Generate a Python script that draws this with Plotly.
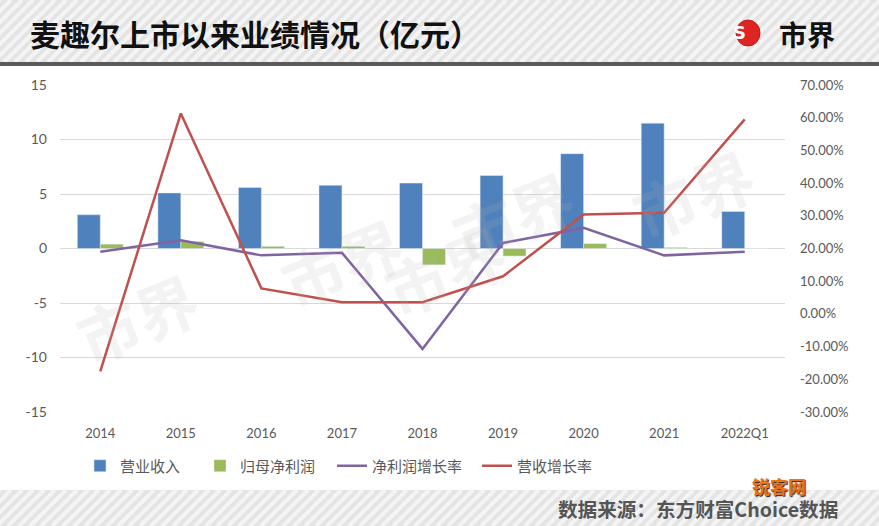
import plotly.graph_objects as go

# data (亿元 / growth rate)
years = ["2014", "2015", "2016", "2017", "2018", "2019", "2020", "2021", "2022Q1"]
revenue = [3.1, 5.1, 5.6, 5.8, 6.0, 6.7, 8.7, 11.5, 3.4]
net_profit = [0.4, 0.65, 0.2, 0.2, -1.5, -0.7, 0.45, 0.1, 0.02]
profit_growth = [0.190, 0.225, 0.179, 0.187, -0.107, 0.217, 0.263, 0.179, 0.190]
revenue_growth = [-0.176, 0.613, 0.078, 0.036, 0.036, 0.115, 0.304, 0.309, 0.595]

left_ticks = [-15, -10, -5, 0, 5, 10, 15]
right_ticks = [-0.3, -0.2, -0.1, 0, 0.1, 0.2, 0.3, 0.4, 0.5, 0.6, 0.7]

W, H = 879, 526
L, R, T, B = 60, 785, 85, 412   # plot area in pixels


def px(x):
    return (x - L) / (R - L)


def py(y):
    return (B - y) / (B - T)


def stripes(y0, y1, step=11):
    # diagonal "/" stripes inside a horizontal band
    d = ""
    h = y1 - y0
    x = -h
    while x < W + h:
        d += f"M{px(x)},{py(y1)} L{px(x + h)},{py(y0)} "
        x += step
    return d


fig = go.Figure()

fig.add_trace(go.Bar(x=years, y=revenue, name="营业收入", marker_color="#4f81bd",
                     legend="legend", showlegend=True))
fig.add_trace(go.Bar(x=years, y=net_profit, name="归母净利润", marker_color="#9bbb59",
                     legend="legend2", showlegend=True))
fig.add_trace(go.Scatter(x=years, y=profit_growth, name="净利润增长率", mode="lines",
                         line=dict(color="#8064a2", width=2.5), yaxis="y2", legend="legend3",
                         showlegend=True))
fig.add_trace(go.Scatter(x=years, y=revenue_growth, name="营收增长率", mode="lines",
                         line=dict(color="#c0504d", width=2.5), yaxis="y2", legend="legend4",
                         showlegend=True))

shapes = []
# header band
shapes.append(dict(type="rect", xref="paper", yref="paper", x0=px(0), x1=px(W), y0=py(62), y1=py(0),
                   fillcolor="#e4e4e4", line_width=0, layer="below"))
shapes.append(dict(type="path", xref="paper", yref="paper", path=stripes(0, 62),
                   line=dict(color="#f4f4f4", width=4), layer="below"))
shapes.append(dict(type="rect", xref="paper", yref="paper", x0=px(0), x1=px(W), y0=py(66), y1=py(62),
                   fillcolor="#5a5a5a", line_width=0, layer="below"))
# footer band
shapes.append(dict(type="rect", xref="paper", yref="paper", x0=px(0), x1=px(W), y0=py(H), y1=py(490),
                   fillcolor="#e4e4e4", line_width=0, layer="below"))
shapes.append(dict(type="path", xref="paper", yref="paper", path=stripes(490, H),
                   line=dict(color="#f4f4f4", width=4), layer="below"))
# logo circle
shapes.append(dict(type="circle", xref="paper", yref="paper", x0=px(736), x1=px(760), y0=py(46), y1=py(20),
                   fillcolor="#e02424", line=dict(color="#c01818", width=1)))

annotations = [
    dict(text="<b>麦趣尔上市以来业绩情况（亿元）</b>", x=px(28), y=py(33), xref="paper", yref="paper",
         xanchor="left", yanchor="middle", showarrow=False,
         font=dict(size=30, color="#111111", family="Noto Sans CJK SC")),
    dict(text="<b>S</b>", x=px(748), y=py(33), xref="paper", yref="paper", showarrow=False,
         yanchor="middle", font=dict(size=18, color="white", family="DejaVu Sans")),
    dict(text="<b>市界</b>", x=px(777), y=py(34), xref="paper", yref="paper", xanchor="left",
         yanchor="middle", showarrow=False,
         font=dict(size=28, color="#111111", family="Noto Sans CJK SC")),
    dict(text="<b>数据来源：东方财富Choice数据</b>", x=px(840), y=py(508), xref="paper", yref="paper",
         xanchor="right", yanchor="middle", showarrow=False,
         font=dict(size=19.6, color="#555555", family="Noto Sans CJK SC")),
    dict(text="<b>锐客网</b>", x=px(808), y=py(486), xref="paper", yref="paper", showarrow=False,
         yanchor="middle",
         font=dict(size=18, color="#e8731a", family="Noto Sans CJK SC", shadow="1px 1px 1px #222")),
]
# faint watermarks
for wx, wy in [(60, 385), (265, 330), (445, 270), (590, 215), (770, 125)]:
    annotations.append(dict(text="<b>市界</b>", x=px(wx), y=py(wy), xref="paper", yref="paper",
                            showarrow=False, textangle=-22,
                            font=dict(size=62, color="rgba(180,180,180,0.16)", family="Noto Sans CJK SC")))

legend_style = dict(orientation="h", xanchor="left", y=py(466), yanchor="middle",
                    font=dict(size=15, color="#595959", family="Noto Sans CJK SC"),
                    bgcolor="rgba(0,0,0,0)")

fig.update_layout(
    width=W, height=H,
    margin=dict(l=L, r=W - R, t=T, b=H - B, autoexpand=False),
    paper_bgcolor="white", plot_bgcolor="white",
    showlegend=True,
    barmode="group", bargap=0.43, bargroupgap=0,
    font=dict(family="Lato, Noto Sans CJK SC", color="#595959", size=13),
    xaxis=dict(showgrid=False, zeroline=False, showline=False, ticks="",
               ticklabelstandoff=12, tickfont=dict(size=13)),
    yaxis=dict(range=[-15, 15], tickvals=left_ticks, ticktext=[str(v) for v in left_ticks],
               showgrid=True, gridcolor="#d9d9d9",
               gridwidth=1, zeroline=True, zerolinecolor="#d9d9d9", zerolinewidth=1,
               ticklabelstandoff=12, tickfont=dict(size=14)),
    yaxis2=dict(range=[-0.3, 0.7], tickvals=right_ticks,
                ticktext=[f"{v * 100:.2f}%" for v in right_ticks], overlaying="y",
                side="right", showgrid=False, zeroline=False, ticklabelstandoff=14,
                tickfont=dict(size=13)),
    legend=dict(x=px(80), **legend_style),
    legend2=dict(x=px(200), **legend_style),
    legend3=dict(x=px(332), **legend_style),
    legend4=dict(x=px(477), **legend_style),
    shapes=shapes,
    annotations=annotations,
)

# page body has an 8px default margin; drop it so the figure fills the window
fig.write_html("out.html", config={"displayModeBar": False},
               post_script="document.body.style.margin='0';")
